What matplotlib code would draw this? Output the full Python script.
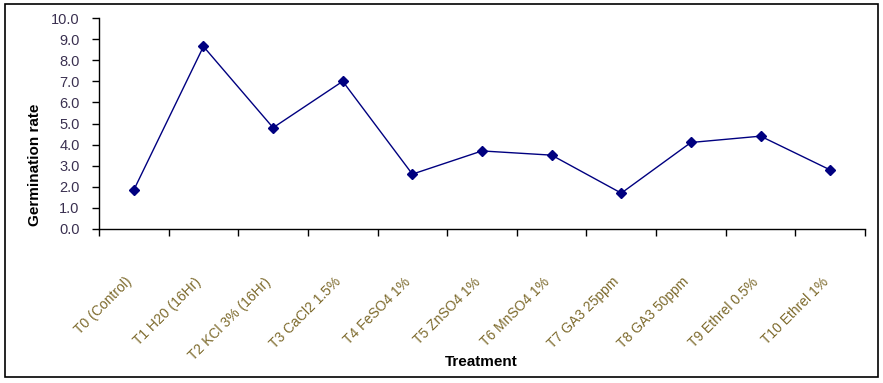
import matplotlib
matplotlib.use("Agg")
import matplotlib.pyplot as plt
from matplotlib.patches import Rectangle
from matplotlib.transforms import ScaledTranslation
import numpy as np

categories = ["T0 (Control)", "T1 H20 (16Hr)", "T2 KCl 3% (16Hr)", "T3 CaCl2 1.5%",
              "T4 FeSO4 1%", "T5 ZnSO4 1%", "T6 MnSO4 1%", "T7 GA3 25ppm",
              "T8 GA3 50ppm", "T9 Ethrel 0.5%", "T10 Ethrel 1%"]
values = [1.85, 8.65, 4.8, 7.0, 2.6, 3.7, 3.5, 1.7, 4.1, 4.4, 2.8]
yticks = [0, 1, 2, 3, 4, 5, 6, 7, 8, 9, 10]
ytick_labels = ["0.0", "1.0", "2.0", "3.0", "4.0", "5.0", "6.0", "7.0", "8.0", "9.0", "10.0"]

plt.rcParams['font.family'] = ['Liberation Sans', 'DejaVu Sans']

W, H = 883, 383
fig = plt.figure(figsize=(W / 100, H / 100), dpi=100)
fig.patch.set_facecolor('white')

ax = fig.add_axes([99 / W, 1 - 229 / H, (865 - 99) / W, (229 - 18) / H])
x = np.arange(len(categories))
ax.plot(x, values, color='#000080', linewidth=1.0, marker='D', markersize=5.5,
        markerfacecolor='#000080', markeredgecolor='#000080', clip_on=False)

ax.set_xlim(-0.5, len(categories) - 0.5)
ax.set_ylim(0, 10)
for s in ['top', 'right']:
    ax.spines[s].set_visible(False)
for s in ['left', 'bottom']:
    ax.spines[s].set_color('black')
    ax.spines[s].set_linewidth(1.0)

ax.set_yticks(yticks)
ax.set_yticklabels(ytick_labels, color='#3a3050', fontsize=10.5)
ax.tick_params(axis='y', direction='out', length=5, width=1, pad=9)

ax.set_xticks(np.arange(len(categories) + 1) - 0.5)
ax.set_xticklabels([])
ax.tick_params(axis='x', which='major', direction='out', length=5, width=1)
ax.set_xticks(x, minor=True)
ax.set_xticklabels(categories, minor=True, rotation=45, ha='right',
                   rotation_mode='anchor', color='#7d6a2c', fontsize=10)
ax.tick_params(axis='x', which='minor', length=0, pad=33)
shift = ScaledTranslation(-9 / 100, 0, fig.dpi_scale_trans)
for lbl in ax.get_xticklabels(minor=True):
    lbl.set_transform(lbl.get_transform() + shift)

fig.text(35 / W, 1 - 165 / H, "Germination rate", rotation=90, ha='center',
         va='center', fontsize=11, fontweight='bold', color='black')
fig.text(481 / W, 1 - 362 / H, "Treatment", ha='center', va='center',
         fontsize=11, fontweight='bold', color='black')

fig.patches.append(Rectangle((5 / W, 1 - 377 / H), 873 / W, 373 / H,
                             transform=fig.transFigure, fill=False,
                             edgecolor='black', linewidth=1.2))

fig.savefig("out.png", dpi=100)
